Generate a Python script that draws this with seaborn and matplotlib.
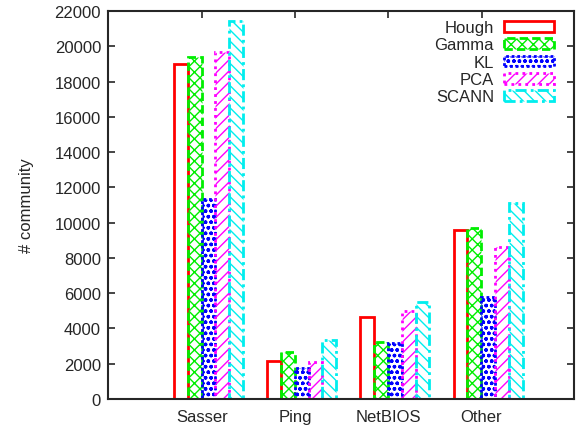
import numpy as np
import pandas as pd
import matplotlib
matplotlib.use("Agg")
import matplotlib.pyplot as plt
from matplotlib.patches import Patch
import seaborn as sns

categories = ["Sasser", "Ping", "NetBIOS", "Other"]
methods = ["Hough", "Gamma", "KL", "PCA", "SCANN"]
hough = [18980, 2170, 4630, 9590]
gamma = [19400, 2640, 3210, 9690]
kl = [11330, 1740, 3170, 5760]
pca = [19680, 2120, 5000, 8600]
scann = [21430, 3360, 5480, 11100]

colors = ["#ff0000", "#00ee00", "#0000ff", "#ff00ff", "#00eeee"]
hatches = [None, "xxx", "ooo", "///", "\\\\\\"]
styles = ["-", (0, (3, 1.5)), (0, (1, 1)), (0, (1, 1.5)), (0, (4, 1.5, 1, 1.5))]

rows = []
for m, vals in zip(methods, [hough, gamma, kl, pca, scann]):
    for c, v in zip(categories, vals):
        rows.append({"category": c, "method": m, "value": v})
df = pd.DataFrame(rows)

sns.set_style("ticks")
plt.rcParams["font.family"] = ["Liberation Sans", "DejaVu Sans"]
plt.rcParams["hatch.linewidth"] = 1.0

fig = plt.figure(figsize=(5.76, 4.27), dpi=100)
ax = fig.add_axes([0.1875, 0.0632, 0.809, 0.9087])

sns.barplot(data=df, x="category", y="value", hue="method", order=categories,
            hue_order=methods, palette=colors, fill=False, width=0.74,
            linewidth=2.0, ax=ax, legend=False)

# gnuplot-like outline styles and patterns per method
for k, cont in enumerate(ax.containers):
    for bar in cont:
        bar.set_edgecolor(colors[k])
        bar.set_linestyle(styles[k])
        bar.set_linewidth(2.0)
        if hatches[k]:
            bar.set_hatch(hatches[k])

ax.set_xlim(-1.078, 3.922)
ax.set_ylim(0, 22000)
ax.set_yticks(np.arange(0, 22001, 2000))
ax.set_xticks(np.arange(len(categories)) - 0.07, categories)
ax.tick_params(direction="in", top=True, right=True, length=5, width=1.2,
               labelsize=12, pad=5)
ax.tick_params(axis="x", pad=7)
for s in ax.spines.values():
    s.set_linewidth(1.5)
    s.set_visible(True)
ax.set_xlabel("")
ax.set_ylabel("# community", fontsize=12)
ax.yaxis.set_label_coords(-0.158, 0.5)

handles = [Patch(facecolor="none", edgecolor=c, hatch=h, linestyle=ls, linewidth=2.0)
           for c, h, ls in zip(colors, hatches, styles)]
ax.legend(handles, methods, loc="upper right", bbox_to_anchor=(0.975, 0.998),
          frameon=False, fontsize=12, markerfirst=False, handlelength=3.0,
          handleheight=0.6, labelspacing=0.14, borderpad=0, handletextpad=0.6)

fig.savefig("out.png", dpi=100)
